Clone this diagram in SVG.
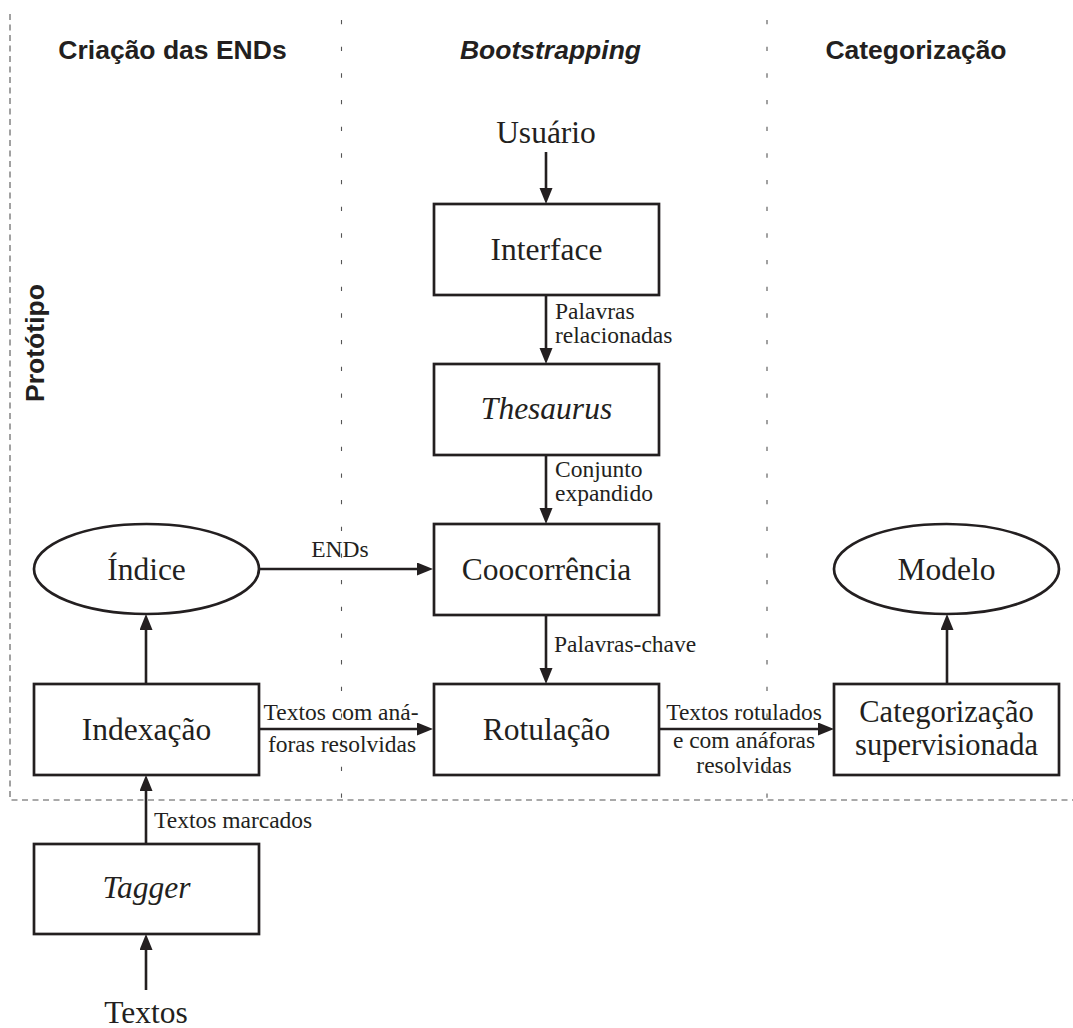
<svg xmlns="http://www.w3.org/2000/svg" width="1073" height="1028" viewBox="0 0 1073 1028">
  <style>
    .box { fill: #ffffff; stroke: #231f20; stroke-width: 2.7; }
    .node { font-family: "Liberation Serif", "Times New Roman", serif; font-size: 31.5px; fill: #231f20; text-anchor: middle; }
    .node2 { font-family: "Liberation Serif", "Times New Roman", serif; font-size: 30.5px; fill: #231f20; text-anchor: middle; }
    .lbl { font-family: "Liberation Serif", "Times New Roman", serif; font-size: 23.5px; fill: #231f20; }
    .mid { text-anchor: middle; }
    .hdr { font-family: "Liberation Sans", Arial, sans-serif; font-size: 26.5px; font-weight: bold; fill: #231f20; text-anchor: middle; }
    .edge { stroke: #231f20; stroke-width: 2.6; fill: none; marker-end: url(#head); }
    .frame { stroke: #555555; stroke-width: 1.1; fill: none; stroke-dasharray: 6 4.5; }
    .divider { stroke: #555555; stroke-width: 1.1; fill: none; stroke-dasharray: 4.3 22.37; }
  </style>
  <defs>
    <marker id="head" markerUnits="userSpaceOnUse" markerWidth="17" markerHeight="14" refX="0" refY="6.5" orient="auto">
      <path d="M0,0 L16,6.5 L0,13 z" fill="#231f20"/>
    </marker>
  </defs>

  <rect width="1073" height="1028" fill="#ffffff"/>

  <!-- prototype frame and column dividers -->
  <g id="frame">
    <path class="frame" d="M10,14 V800 H1073"/>
    <line class="divider" x1="341.5" y1="20" x2="341.5" y2="800"/>
    <line class="divider" x1="767" y1="20" x2="767" y2="800"/>
  </g>

  <!-- column headers -->
  <g id="headers">
    <text class="hdr" x="172.5" y="59">Criação das ENDs</text>
    <text class="hdr" x="550.5" y="59" font-style="italic">Bootstrapping</text>
    <text class="hdr" x="916" y="59">Categorização</text>
    <text class="hdr" transform="translate(43.5,343) rotate(-90)">Protótipo</text>
  </g>

  <!-- connectors -->
  <g id="connectors">
    <line class="edge" x1="546" y1="152" x2="546" y2="188"/>
    <line class="edge" x1="546" y1="295" x2="546" y2="348"/>
    <line class="edge" x1="546" y1="455" x2="546" y2="508"/>
    <line class="edge" x1="546" y1="615" x2="546" y2="668"/>
    <line class="edge" x1="259" y1="569" x2="417" y2="569"/>
    <line class="edge" x1="259" y1="729" x2="417" y2="729"/>
    <line class="edge" x1="659" y1="729" x2="818" y2="729"/>
    <line class="edge" x1="146" y1="684" x2="146" y2="630"/>
    <line class="edge" x1="146" y1="844" x2="146" y2="791"/>
    <line class="edge" x1="146" y1="990" x2="146" y2="950"/>
    <line class="edge" x1="947" y1="684" x2="947" y2="630"/>

    <text class="lbl" x="555" y="319">Palavras</text>
    <text class="lbl" x="555" y="343">relacionadas</text>
    <text class="lbl" x="555" y="477">Conjunto</text>
    <text class="lbl" x="555" y="501">expandido</text>
    <text class="lbl" x="554" y="652">Palavras-chave</text>
    <text class="lbl mid" x="340" y="557">ENDs</text>
    <text class="lbl mid" x="341" y="720">Textos com aná-</text>
    <text class="lbl mid" x="342" y="752">foras resolvidas</text>
    <text class="lbl mid" x="744" y="720">Textos rotulados</text>
    <text class="lbl mid" x="744" y="748">e com anáforas</text>
    <text class="lbl mid" x="744" y="773">resolvidas</text>
    <text class="lbl" x="154" y="828">Textos marcados</text>
  </g>

  <!-- nodes -->
  <g id="usuario">
    <text class="node" x="546" y="143">Usuário</text>
  </g>
  <g id="interface">
    <rect class="box" x="434" y="204" width="225" height="91"/>
    <text class="node" x="546.5" y="260">Interface</text>
  </g>
  <g id="thesaurus">
    <rect class="box" x="434" y="364" width="225" height="91"/>
    <text class="node" x="546.5" y="419" font-style="italic">Thesaurus</text>
  </g>
  <g id="coocorrencia">
    <rect class="box" x="434" y="524" width="225" height="91"/>
    <text class="node" x="546.5" y="580">Coocorrência</text>
  </g>
  <g id="rotulacao">
    <rect class="box" x="434" y="684" width="225" height="91"/>
    <text class="node" x="546.5" y="740">Rotulação</text>
  </g>
  <g id="indice">
    <ellipse class="box" cx="146.5" cy="569" rx="112.5" ry="45"/>
    <text class="node" x="146.5" y="580">Índice</text>
  </g>
  <g id="indexacao">
    <rect class="box" x="34" y="684" width="225" height="91"/>
    <text class="node" x="146.5" y="740">Indexação</text>
  </g>
  <g id="tagger">
    <rect class="box" x="34" y="844" width="225" height="90"/>
    <text class="node" x="146.5" y="898" font-style="italic">Tagger</text>
  </g>
  <g id="textos">
    <text class="node" x="146" y="1023">Textos</text>
  </g>
  <g id="categorizacao">
    <rect class="box" x="834" y="684" width="225" height="91"/>
    <text class="node2" x="946.5" y="722">Categorização</text>
    <text class="node2" x="946.5" y="755">supervisionada</text>
  </g>
  <g id="modelo">
    <ellipse class="box" cx="946.5" cy="569" rx="112.5" ry="45"/>
    <text class="node" x="946.5" y="580">Modelo</text>
  </g>
</svg>
